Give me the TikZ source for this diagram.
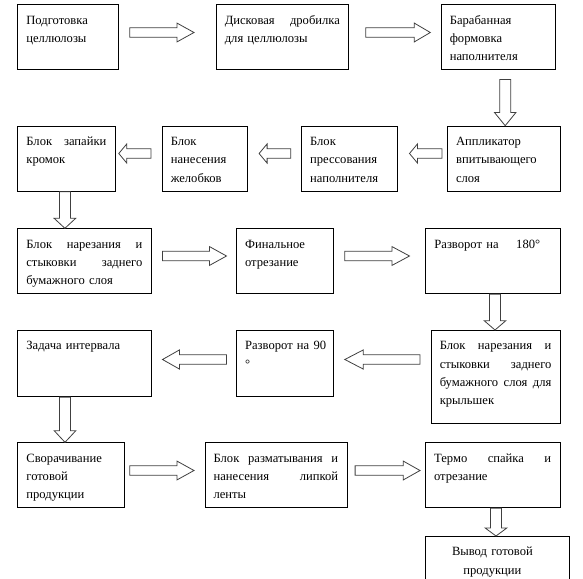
\documentclass[tikz,border=0pt]{standalone}
\usepackage{fontspec}
\setmainfont{Liberation Serif}
\usetikzlibrary{calc}
\tikzset{
  blk/.style={draw=black, line width=0.8pt, anchor=north west, inner xsep=8.7pt, inner ysep=0pt,
    align=left, font=\fontsize{12.6}{18.3}\selectfont, text height=19.5pt},
  barrow/.style={draw=black!75, line width=0.8pt, fill=white, line join=miter}
}
\newcommand\mkbox[7][left]{%
  \pgfmathsetmacro\tw{#5-17.4}\pgfmathsetmacro\td{#6-19.5}%
  \node[blk, align=#1, text width=\tw pt, text depth=\td pt] (#2) at (#3,#4) {#7};}
\newcommand\rarr[3]{\draw[barrow] ([yshift=4.8pt]#1) -- ([xshift=-#3pt,yshift=4.8pt]#2) -- ([xshift=-#3pt,yshift=9.4pt]#2) -- (#2) -- ([xshift=-#3pt,yshift=-9.4pt]#2) -- ([xshift=-#3pt,yshift=-4.8pt]#2) -- ([yshift=-4.8pt]#1) -- cycle;}
\newcommand\larr[3]{\draw[barrow] ([yshift=4.8pt]#1) -- ([xshift=#3pt,yshift=4.8pt]#2) -- ([xshift=#3pt,yshift=9.6pt]#2) -- (#2) -- ([xshift=#3pt,yshift=-9.6pt]#2) -- ([xshift=#3pt,yshift=-4.8pt]#2) -- ([yshift=-4.8pt]#1) -- cycle;}
\newcommand\darr[3]{\draw[barrow] ([xshift=-5.5pt]#1) -- ([xshift=-5.5pt,yshift=#3pt]#2) -- ([xshift=-10.8pt,yshift=#3pt]#2) -- (#2) -- ([xshift=10.8pt,yshift=#3pt]#2) -- ([xshift=5.5pt,yshift=#3pt]#2) -- ([xshift=5.5pt]#1) -- cycle;}
\begin{document}
\begin{tikzpicture}[x=1pt,y=-1pt]
\useasboundingbox (0,0) rectangle (583,578);
% row 1
\mkbox{b1}{17.3}{4.3}{101}{65}{Подготовка\\целлюлозы}
\mkbox{b2}{215.7}{4.3}{132.6}{65}{Дисковая\hfill дробилка\\для целлюлозы}
\mkbox{b3}{440.7}{4.3}{114.6}{65}{Барабанная\\формовка\\наполнителя}
% row 2
\mkbox{b4}{447}{125.7}{112.7}{65.3}{Аппликатор\\впитывающего\\слоя}
\mkbox{b5}{301}{125.7}{96.3}{65.3}{Блок\\прессования\\наполнителя}
\mkbox{b6}{161.7}{125.7}{85.6}{65.3}{Блок\\нанесения\\желобков}
\mkbox{b7}{17.3}{125.7}{97.4}{65.3}{Блок\hfill запайки\\кромок}
% row 3
\mkbox{b8}{17.3}{228.3}{133.4}{65}{Блок\hfill нарезания\hfill и\\стыковки\hfill заднего\\бумажного слоя}
\mkbox{b9}{236}{228.3}{97.3}{65}{Финальное\\отрезание}
\mkbox{b10}{425.3}{228.3}{134.4}{65}{Разворот на\hspace{17.6pt}180°}
% row 4
\mkbox{b11}{430.7}{330}{129}{93.3}{Блок\hfill нарезания\hfill и\\стыковки\hfill заднего\\бумажного\hfill слоя\hfill для\\крыльшек}
\mkbox{b12}{236}{330}{97.3}{66.3}{\mbox{Разворот на 90}\\°}
\mkbox{b13}{17.3}{330}{133.4}{66.3}{Задача интервала}
% row 5
\mkbox{b14}{17.3}{442.3}{107}{65}{Сворачивание\\готовой\\продукции}
\mkbox{b15}{204.5}{442.3}{142}{65}{Блок\hfill разматывания\hfill и\\нанесения\hfill липкой\\ленты}
\mkbox{b16}{425}{442.3}{134.5}{65}{Термо\hfill спайка\hfill и\\отрезание}
\mkbox[center]{b17}{425}{536}{144}{60}{\hspace*{-10pt}Вывод готовой\\\hspace*{-10pt}продукции}
% arrow end points
\coordinate (a1s) at ($(b1.north east)+(10.7,28.2)$);
\coordinate (a1t) at ($(b2.north west)+(-21.7,28.2)$);
\coordinate (a2s) at ($(b2.north east)+(16.7,28.2)$);
\coordinate (a2t) at ($(b3.north west)+(-10.4,28.2)$);
\coordinate (d1s) at ($(b3.south west)+(64.5,9.4)$);
\coordinate (d1t) at (d1s |- b4.north);
\coordinate (a3s) at ($(b4.north west)+(-5,27.8)$);
\coordinate (a3t) at ($(b5.north east)+(11.4,27.8)$);
\coordinate (a4s) at ($(b5.north west)+(-10.3,27.8)$);
\coordinate (a4t) at ($(b6.north east)+(11,27.8)$);
\coordinate (a5s) at ($(b6.north west)+(-10.7,27.8)$);
\coordinate (a5t) at ($(b7.north east)+(3.3,27.8)$);
\coordinate (d2s) at ($(b7.south west)+(47.6,0)$);
\coordinate (d2t) at (d2s |- b8.north);
\coordinate (a6s) at ($(b8.north east)+(11,27.7)$);
\coordinate (a6t) at ($(b9.north west)+(-9.5,27.7)$);
\coordinate (a7s) at ($(b9.north east)+(10.7,27.7)$);
\coordinate (a7t) at ($(b10.north west)+(-15.8,27.7)$);
\coordinate (d3s) at ($(b10.south west)+(69.7,0)$);
\coordinate (d3t) at (d3s |- b11.north);
\coordinate (a8s) at ($(b11.north west)+(-10.7,29.5)$);
\coordinate (a8t) at ($(b12.north east)+(10.7,29.5)$);
\coordinate (a9s) at ($(b12.north west)+(-9.5,29.5)$);
\coordinate (a9t) at ($(b13.north east)+(11,29.5)$);
\coordinate (d4s) at ($(b13.south west)+(47.7,0)$);
\coordinate (d4t) at (d4s |- b14.north);
\coordinate (a10s) at ($(b14.north east)+(4.7,28.2)$);
\coordinate (a10t) at ($(b15.north west)+(-10.5,28.2)$);
\coordinate (a11s) at ($(b15.north east)+(7.8,28.2)$);
\coordinate (a11t) at ($(b16.north west)+(-5,28.2)$);
\coordinate (d5s) at ($(b16.south west)+(71,0)$);
\coordinate (d5t) at (d5s |- b17.north);
% arrows
\rarr{a1s}{a1t}{17}
\rarr{a2s}{a2t}{16}
\darr{d1s}{d1t}{13.3}
\larr{a3s}{a3t}{8}
\larr{a4s}{a4t}{8}
\larr{a5s}{a5t}{8}
\darr{d2s}{d2t}{10}
\rarr{a6s}{a6t}{17}
\rarr{a7s}{a7t}{17.5}
\darr{d3s}{d3t}{9.3}
\larr{a8s}{a8t}{18.5}
\larr{a9s}{a9t}{17}
\darr{d4s}{d4t}{11.6}
\rarr{a10s}{a10t}{17}
\rarr{a11s}{a11t}{16.7}
\darr{d5s}{d5t}{8}
\end{tikzpicture}
\end{document}
